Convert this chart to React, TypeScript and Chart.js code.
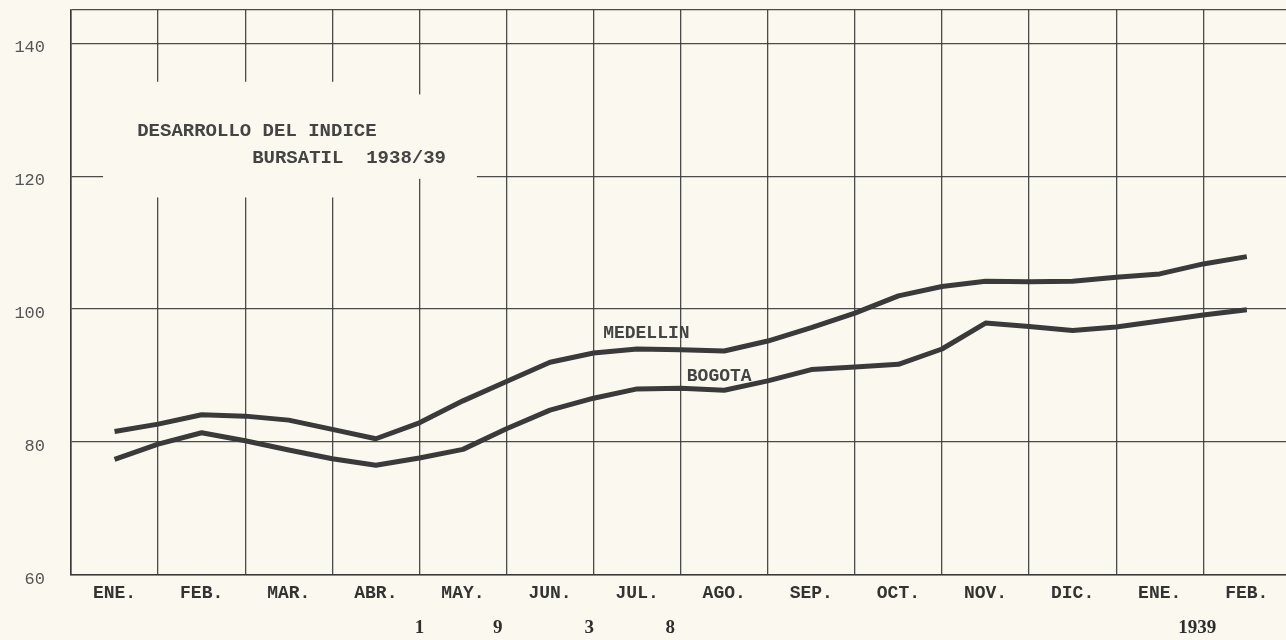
import React, { useEffect, useRef } from "react";
import { Chart, registerables } from "chart.js";

Chart.register(...registerables);

// ---- data ----
const monthLabels = ["ENE.", "FEB.", "MAR.", "ABR.", "MAY.", "JUN.", "JUL.", "AGO.", "SEP.", "OCT.", "NOV.", "DIC.", "ENE.", "FEB."];
const yTickValues = [60, 80, 100, 120, 140];
// positions in months (0 = ENE. 1938), half-month readings
const positions = [0, 0.5, 1, 1.5, 2, 2.5, 3, 3.5, 4, 4.5, 5, 5.5, 6, 6.5, 7, 7.5, 8, 8.5, 9, 9.5, 10, 10.5, 11, 11.5, 12, 12.5, 13];
const medellin = [81.6, 82.7, 84.1, 83.9, 83.3, 81.9, 80.5, 82.9, 86.2, 89.1, 92.0, 93.4, 94.0, 93.9, 93.7, 95.2, 97.2, 99.4, 102.0, 103.4, 104.2, 104.1, 104.2, 104.8, 105.3, 106.8, 107.9];
const bogota = [77.4, 79.7, 81.4, 80.2, 78.8, 77.5, 76.5, 77.6, 78.9, 82.0, 84.8, 86.6, 88.0, 88.1, 87.8, 89.2, 90.9, 91.3, 91.7, 94.0, 97.9, 97.4, 96.8, 97.3, 98.2, 99.1, 99.9];
const seriesNames = ["MEDELLIN", "BOGOTA"];
const titleLines = ["DESARROLLO DEL INDICE", "BURSATIL  1938/39"];
const yearDigits = ["1", "9", "3", "8", "1939"];
const yearDigitPositions = [3.5, 4.4, 5.45, 6.38, 12.43];

// ---- style ----
const BG = "#fbf9ef";
const GRID = "rgba(55,55,55,0.9)";
const LINE = "#3a3a3a";
const TEXT = "#444";
const X_MIN = -0.5;
const X_MAX = 13.45;
const Y_MIN = 60;
const Y_MAX = 145;

const decorPlugin = {
  id: "decor",
  beforeDatasetsDraw(chart: any) {
    const { ctx, scales } = chart;
    const x = scales.x;
    const y = scales.y;
    ctx.save();
    // blank box behind the title (interrupts grid lines)
    ctx.fillStyle = BG;
    const boxes = [
      [-0.13, 4.16, 119.6, 132.3],
      [-0.13, 3.16, 116.8, 134.2],
    ];
    for (const [a, b, c, d] of boxes) {
      const x0 = x.getPixelForValue(a);
      const x1 = x.getPixelForValue(b);
      const y0 = y.getPixelForValue(d);
      const y1 = y.getPixelForValue(c);
      ctx.fillRect(x0, y0, x1 - x0, y1 - y0);
    }
    ctx.fillStyle = TEXT;
    ctx.font = 'bold 19px "Liberation Mono"';
    ctx.textBaseline = "middle";
    ctx.textAlign = "left";
    ctx.fillText(titleLines[0], x.getPixelForValue(0.26), y.getPixelForValue(126.8));
    ctx.fillText(titleLines[1], x.getPixelForValue(1.58), y.getPixelForValue(122.7));
    ctx.restore();
  },
  afterDatasetsDraw(chart: any) {
    const { ctx, scales } = chart;
    const x = scales.x;
    const y = scales.y;
    ctx.save();
    ctx.fillStyle = TEXT;
    ctx.font = 'bold 18px "Liberation Mono"';
    ctx.textBaseline = "middle";
    ctx.textAlign = "left";
    ctx.fillText(seriesNames[0], x.getPixelForValue(5.61), y.getPixelForValue(96.4));
    ctx.fillText(seriesNames[1], x.getPixelForValue(6.57), y.getPixelForValue(89.8));
    ctx.restore();
  },
  afterDraw(chart: any) {
    const { ctx, scales, chartArea } = chart;
    const x = scales.x;
    ctx.save();
    ctx.fillStyle = "#2e2e2e";
    ctx.font = 'bold 19px "Liberation Serif"';
    ctx.textBaseline = "middle";
    ctx.textAlign = "center";
    yearDigits.forEach((d, i) => {
      ctx.fillText(d, x.getPixelForValue(yearDigitPositions[i]), chartArea.bottom + 53);
    });
    ctx.restore();
  },
};

export default function App() {
  const ref = useRef<HTMLCanvasElement>(null);

  useEffect(() => {
    if (!ref.current) return;
    const xTickValues: number[] = [];
    for (let i = 0; i < monthLabels.length; i++) {
      xTickValues.push(i - 0.5, i);
    }
    const chart = new Chart(ref.current, {
      type: "line",
      data: {
        datasets: [
          {
            label: seriesNames[0],
            data: positions.map((p, i) => ({ x: p, y: medellin[i] })),
            borderColor: LINE,
            borderWidth: 5,
            pointRadius: 0,
            tension: 0,
            borderJoinStyle: "round",
            borderCapStyle: "butt",
          },
          {
            label: seriesNames[1],
            data: positions.map((p, i) => ({ x: p, y: bogota[i] })),
            borderColor: LINE,
            borderWidth: 5,
            pointRadius: 0,
            tension: 0,
            borderJoinStyle: "round",
            borderCapStyle: "butt",
          },
        ],
      },
      options: {
        animation: false,
        responsive: true,
        maintainAspectRatio: false,
        layout: { padding: { top: 10, right: 0, bottom: 0, left: 0 } },
        plugins: {
          legend: { display: false },
          tooltip: { enabled: false },
          title: { display: false },
        },
        scales: {
          x: {
            type: "linear",
            min: X_MIN,
            max: X_MAX,
            afterBuildTicks: (axis: any) => {
              axis.ticks = xTickValues.map((v) => ({ value: v }));
            },
            afterFit: (axis: any) => {
              axis.height = 65;
              axis.paddingLeft = 0;
              axis.paddingRight = 0;
            },
            grid: {
              color: (ctx: any) =>
                ctx.tick && Number.isInteger(ctx.tick.value) ? "rgba(0,0,0,0)" : GRID,
              lineWidth: 1.3,
              drawTicks: false,
            },
            border: { display: true, color: GRID, width: 1.6 },
            ticks: {
              autoSkip: false,
              maxRotation: 0,
              minRotation: 0,
              padding: 8,
              color: "#333",
              font: { family: "Liberation Mono", size: 18, weight: "bold" },
              callback: (v: any) => {
                const n = Number(v);
                return Number.isInteger(n) && n >= 0 && n < monthLabels.length ? monthLabels[n] : "";
              },
            },
          },
          y: {
            type: "linear",
            min: Y_MIN,
            max: Y_MAX,
            afterBuildTicks: (axis: any) => {
              axis.ticks = [...yTickValues, Y_MAX].map((v) => ({ value: v }));
            },
            afterFit: (axis: any) => {
              axis.width = 71;
              axis.paddingTop = 0;
              axis.paddingBottom = 0;
            },
            grid: { color: GRID, lineWidth: 1.3, drawTicks: false },
            border: { display: true, color: GRID, width: 1.6 },
            ticks: {
              padding: 26,
              labelOffset: 4,
              color: "#555",
              font: { family: "Liberation Mono", size: 17 },
              callback: (v: any) => (yTickValues.includes(Number(v)) ? String(v) : ""),
            },
          },
        },
      },
      plugins: [decorPlugin],
    });
    return () => chart.destroy();
  }, []);

  return (
    <div
      style={{
        position: "fixed",
        left: 0,
        top: 0,
        width: 1286,
        height: 640,
        background: BG,
      }}
    >
      <canvas ref={ref} />
    </div>
  );
}
